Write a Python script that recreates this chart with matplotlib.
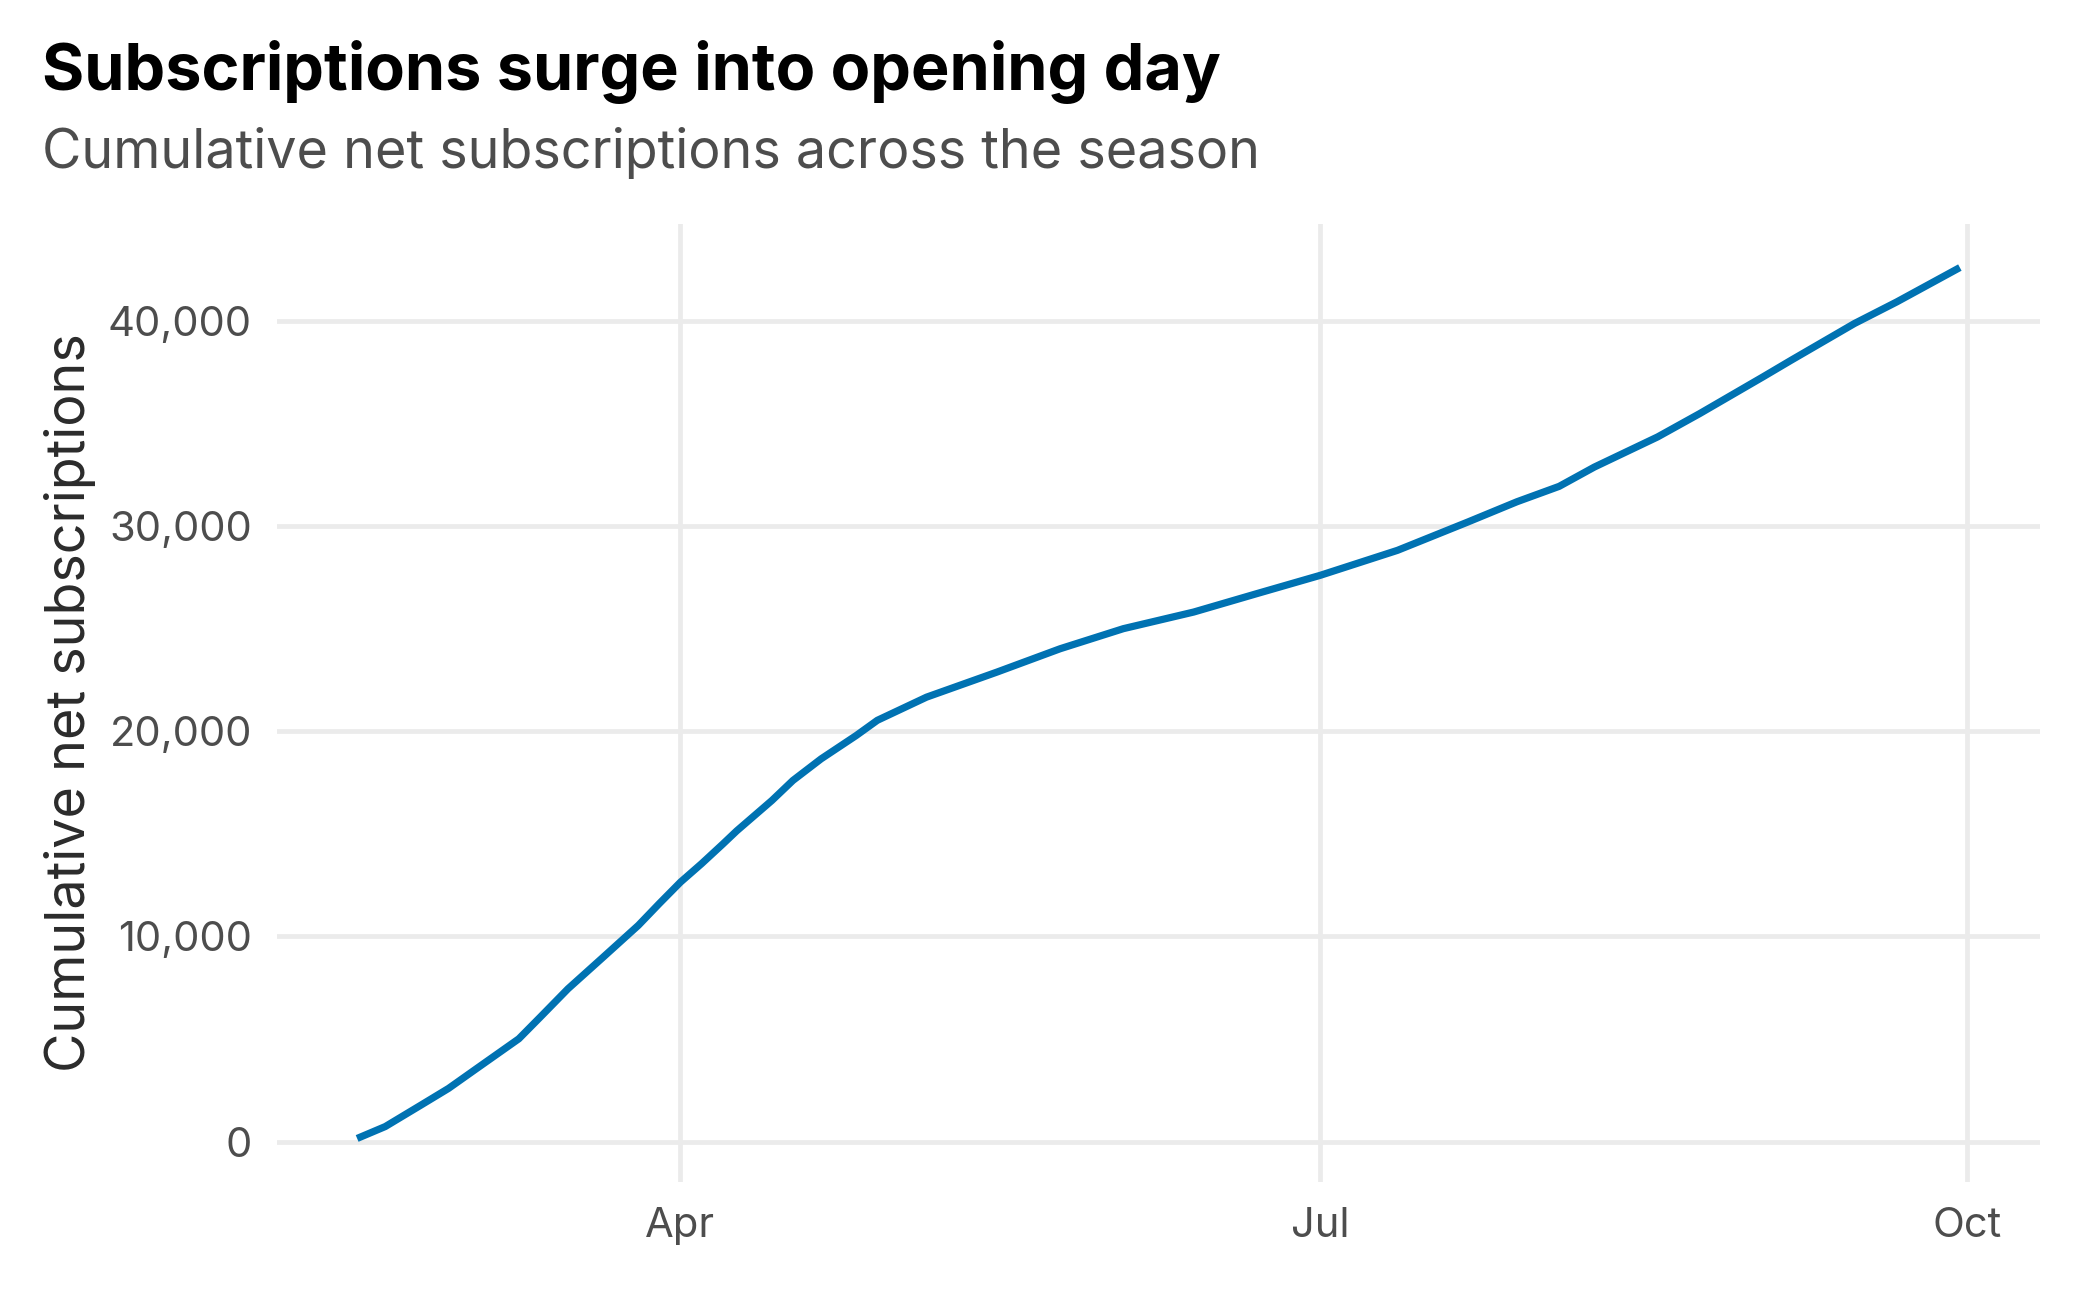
import numpy as np
import pandas as pd
import matplotlib
matplotlib.use("Agg")
import matplotlib.pyplot as plt
import matplotlib.dates as mdates
from matplotlib.ticker import FuncFormatter

plt.rcParams['font.family'] = ['Inter', 'DejaVu Sans']

# cumulative net subscriptions
dates = ["2025-02-14", "2025-02-18", "2025-02-23", "2025-02-27", "2025-03-03",
         "2025-03-09", "2025-03-12", "2025-03-16", "2025-03-21", "2025-03-26",
         "2025-03-29", "2025-04-01", "2025-04-04", "2025-04-07", "2025-04-09",
         "2025-04-14", "2025-04-17", "2025-04-21", "2025-04-26", "2025-04-29",
         "2025-05-06", "2025-05-16", "2025-05-25", "2025-06-03", "2025-06-13",
         "2025-06-22", "2025-07-01", "2025-07-12", "2025-07-22", "2025-07-29",
         "2025-08-04", "2025-08-09", "2025-08-18", "2025-08-24", "2025-09-02",
         "2025-09-06", "2025-09-15", "2025-09-21", "2025-09-30"]
subs = [150, 730, 1760, 2590, 3560,
        5010, 6050, 7450, 8990, 10540,
        11610, 12650, 13550, 14500, 15150,
        16630, 17610, 18660, 19800, 20540,
        21670, 22890, 24030, 25010, 25820,
        26720, 27610, 28830, 30210, 31200,
        31950, 32890, 34360, 35500, 37290,
        38100, 39890, 40940, 42620]
x_ticks = ["2025-04-01", "2025-07-01", "2025-10-01"]
y_ticks = [0, 10000, 20000, 30000, 40000]

title = "Subscriptions surge into opening day"
subtitle = "Cumulative net subscriptions across the season"
ylab = "Cumulative net subscriptions"

d = pd.to_datetime(dates)
W, H = 2100, 1290
fig = plt.figure(figsize=(W / 200, H / 200), dpi=200)
ax = fig.add_axes([277 / W, 1 - 1182 / H, (2040 - 277) / W, (1182 - 224) / H])

ax.plot(d, subs, color="#0072B2", lw=2.6, solid_capstyle="butt",
        solid_joinstyle="round", zorder=3)

# ggplot-ish 5% expansion
span = d[-1] - d[0]
ax.set_xlim(d[0] - span * 0.05, d[-1] + span * 0.05)
yr = max(subs) - min(subs)
ax.set_ylim(min(subs) - yr * 0.05, max(subs) + yr * 0.05)

ax.set_xticks(pd.to_datetime(x_ticks))
ax.xaxis.set_major_formatter(mdates.DateFormatter("%b"))
ax.set_yticks(y_ticks)
ax.yaxis.set_major_formatter(FuncFormatter(lambda v, p: f"{int(v):,}"))

ax.grid(True, color="#ebebeb", lw=1.7)
ax.set_axisbelow(True)
for s in ax.spines.values():
    s.set_visible(False)
ax.tick_params(length=0, pad=9, labelsize=15, labelcolor="#4d4d4d")

ax.set_ylabel(ylab, fontsize=19.4, color="#2b2b2b")
ax.yaxis.label.set_va("center")
ax.yaxis.set_label_coords((70 - 277) / (2040 - 277), 0.5)

fig.text(42 / W, 1 - 90 / H, title, fontsize=23.3, fontweight="bold",
         color="black", va="baseline", ha="left")
fig.text(42 / W, 1 - 168 / H, subtitle, fontsize=19.4, color="#4d4d4d",
         va="baseline", ha="left")

fig.savefig("out.png", dpi=200, facecolor="white")
